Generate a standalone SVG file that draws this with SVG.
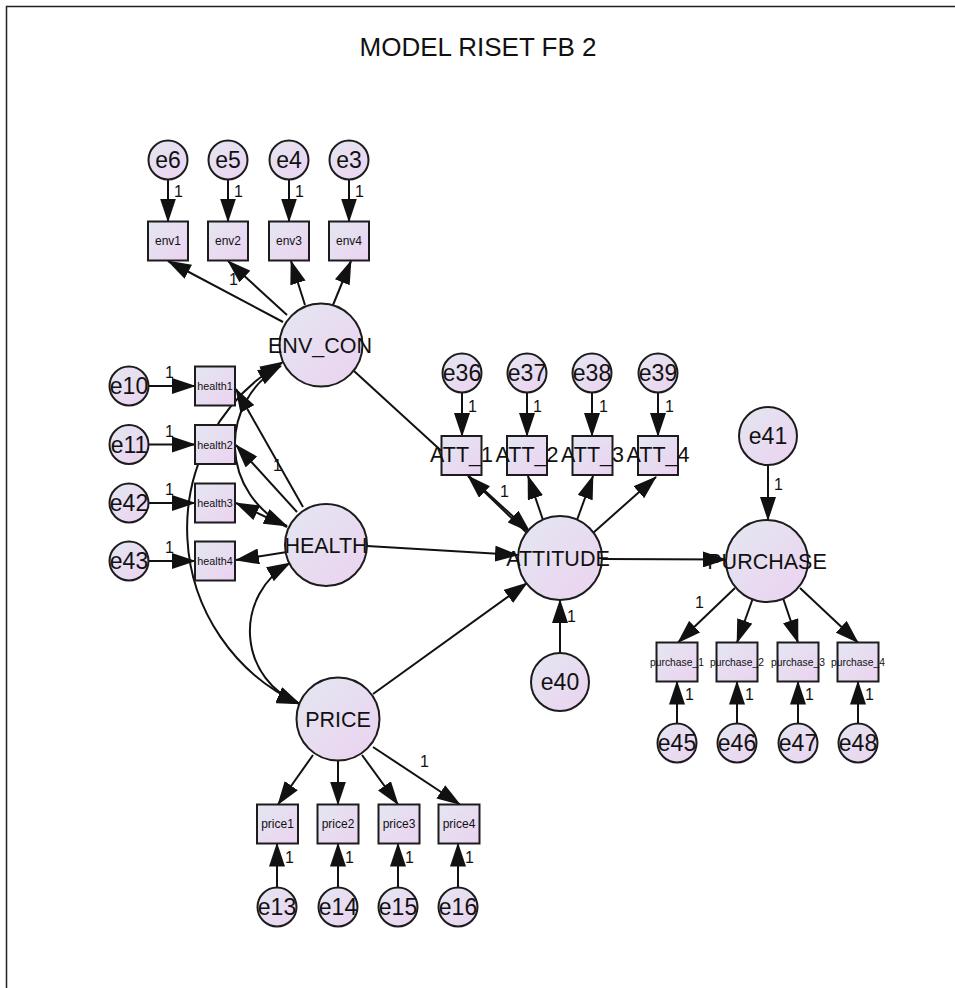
<svg xmlns="http://www.w3.org/2000/svg" width="955" height="988" viewBox="0 0 955 988">
  <defs>
    <linearGradient id="fillGrad" x1="0" y1="0" x2="1" y2="1">
      <stop offset="0" stop-color="#e4e7f1"/>
      <stop offset="1" stop-color="#ebd2f0"/>
    </linearGradient>
    <marker id="ah" viewBox="0 0 24 16" refX="23" refY="8" markerWidth="24" markerHeight="16" markerUnits="userSpaceOnUse" orient="auto-start-reverse">
      <path d="M0,0 L24,8 L0,16 z" fill="#111"/>
    </marker>
    <style>
      .shape { fill: url(#fillGrad); stroke: #1c1c1c; stroke-width: 2; }
      .t { font-family: "Liberation Sans", Arial, sans-serif; fill: #111; text-anchor: middle; }
      .lat { font-size: 21.5px; }
      .err { font-size: 23px; }
      .att { font-size: 21.5px; }
      .env { font-size: 12px; }
      .hl { font-size: 10.8px; }
      .pr { font-size: 12px; }
      .pu { font-size: 10.3px; }
      .one { font-family: "Liberation Sans", Arial, sans-serif; fill: #111; font-size: 16px; }
      .c line, .c path { stroke: #111; stroke-width: 2; fill: none; marker-end: url(#ah); }
      .c path.cov { marker-start: url(#ah); }
    </style>
  </defs>

  <rect width="955" height="988" fill="#ffffff"/>
  <path d="M6.5,988 V6.5 H955" fill="none" stroke="#222" stroke-width="1.5"/>
  <text class="t" x="478" y="56" font-size="26">MODEL RISET FB 2</text>

  <!-- connectors -->
  <g id="connectors" class="c">
    <!-- covariances -->
    <path class="cov" d="M283,362 A192.7,192.7 0 0 0 300,704"/>
    <path class="cov" d="M281,366 A89.8,89.8 0 0 0 287,526"/>
    <path class="cov" d="M290,563 A78,78 0 0 0 300,704"/>
    <!-- env errors -->
    <line x1="168" y1="179.5" x2="168" y2="221.5"/>
    <line x1="228" y1="179.5" x2="228" y2="221.5"/>
    <line x1="289" y1="179.5" x2="289" y2="221.5"/>
    <line x1="349" y1="179.5" x2="349" y2="221.5"/>
    <!-- ENV_CON loadings -->
    <line x1="283" y1="322" x2="168" y2="261"/>
    <line x1="287" y1="315" x2="228" y2="261"/>
    <line x1="305" y1="305" x2="291" y2="261"/>
    <line x1="333" y1="305" x2="351" y2="261"/>
    <!-- health errors -->
    <line x1="148.5" y1="386" x2="195" y2="386"/>
    <line x1="148.5" y1="444.5" x2="195" y2="444.5"/>
    <line x1="148.5" y1="503" x2="195" y2="503"/>
    <line x1="148.5" y1="561" x2="195" y2="561"/>
    <!-- HEALTH loadings -->
    <line x1="303" y1="507" x2="236" y2="389"/>
    <line x1="297" y1="512" x2="236" y2="445"/>
    <line x1="287" y1="527" x2="236" y2="503"/>
    <line x1="287" y1="552" x2="236" y2="560"/>
    <!-- ATT errors -->
    <line x1="462" y1="392.5" x2="462" y2="436"/>
    <line x1="527" y1="392.5" x2="527" y2="436"/>
    <line x1="592" y1="392.5" x2="592" y2="436"/>
    <line x1="658" y1="392.5" x2="658" y2="436"/>
    <!-- ATTITUDE loadings -->
    <line x1="527" y1="533" x2="468" y2="476"/>
    <line x1="543" y1="520" x2="528" y2="476"/>
    <line x1="577" y1="520" x2="593" y2="476"/>
    <line x1="593" y1="533" x2="656" y2="477"/>
    <!-- structural paths -->
    <line x1="354" y1="371" x2="530" y2="532"/>
    <line x1="367" y1="546" x2="518" y2="555"/>
    <line x1="373" y1="694" x2="527" y2="583"/>
    <line x1="560" y1="653" x2="560" y2="600"/>
    <line x1="602" y1="559" x2="726" y2="559.5"/>
    <line x1="768" y1="465" x2="768" y2="520"/>
    <!-- PURCHASE loadings -->
    <line x1="735" y1="588" x2="678" y2="642.5"/>
    <line x1="753" y1="598" x2="737" y2="642.5"/>
    <line x1="783" y1="598" x2="798" y2="642.5"/>
    <line x1="800" y1="588" x2="858" y2="642.5"/>
    <!-- purchase errors -->
    <line x1="677" y1="723.5" x2="677" y2="681.5"/>
    <line x1="737" y1="723.5" x2="737" y2="681.5"/>
    <line x1="798" y1="723.5" x2="798" y2="681.5"/>
    <line x1="858" y1="723.5" x2="858" y2="681.5"/>
    <!-- PRICE loadings -->
    <line x1="313" y1="755" x2="278" y2="804.5"/>
    <line x1="338" y1="761" x2="338" y2="804.5"/>
    <line x1="362" y1="755" x2="398" y2="804.5"/>
    <line x1="373" y1="747" x2="460" y2="804.5"/>
    <!-- price errors -->
    <line x1="277" y1="887.5" x2="277" y2="843.5"/>
    <line x1="338" y1="887.5" x2="338" y2="843.5"/>
    <line x1="398" y1="887.5" x2="398" y2="843.5"/>
    <line x1="458" y1="887.5" x2="458" y2="843.5"/>
  </g>

  <!-- regression weight labels -->
  <g id="weights" class="one">
    <text x="174" y="197">1</text><text x="234" y="197">1</text><text x="295" y="197">1</text><text x="355" y="197">1</text>
    <text x="229" y="285">1</text>
    <text x="165" y="378">1</text><text x="165" y="437">1</text><text x="165" y="495">1</text><text x="165" y="553">1</text>
    <text x="273" y="471">1</text>
    <text x="468" y="412">1</text><text x="533" y="412">1</text><text x="599" y="412">1</text><text x="665" y="412">1</text>
    <text x="500" y="497">1</text>
    <text x="567" y="622">1</text>
    <text x="774" y="490">1</text>
    <text x="695" y="608">1</text>
    <text x="685" y="700">1</text><text x="745" y="700">1</text><text x="805" y="700">1</text><text x="865" y="700">1</text>
    <text x="420" y="767">1</text>
    <text x="285" y="863">1</text><text x="345" y="863">1</text><text x="405" y="863">1</text><text x="465" y="863">1</text>
  </g>

  <!-- ENV_CON block -->
  <g id="e6"><circle class="shape" cx="168" cy="160" r="19.5"/><text class="t err" x="168" y="168">e6</text></g>
  <g id="e5"><circle class="shape" cx="228" cy="160" r="19.5"/><text class="t err" x="228" y="168">e5</text></g>
  <g id="e4"><circle class="shape" cx="289" cy="160" r="19.5"/><text class="t err" x="289" y="168">e4</text></g>
  <g id="e3"><circle class="shape" cx="349" cy="160" r="19.5"/><text class="t err" x="349" y="168">e3</text></g>
  <g id="env1"><rect class="shape" x="148" y="221.5" width="40" height="39"/><text class="t env" x="168" y="245">env1</text></g>
  <g id="env2"><rect class="shape" x="208" y="221.5" width="40" height="39"/><text class="t env" x="228" y="245">env2</text></g>
  <g id="env3"><rect class="shape" x="269" y="221.5" width="40" height="39"/><text class="t env" x="289" y="245">env3</text></g>
  <g id="env4"><rect class="shape" x="329" y="221.5" width="40" height="39"/><text class="t env" x="349" y="245">env4</text></g>
  <g id="ENV_CON"><circle class="shape" cx="321" cy="345" r="41.5"/><text class="t lat" x="320" y="352.5">ENV_CON</text></g>

  <!-- HEALTH block -->
  <g id="e10"><circle class="shape" cx="129" cy="386" r="19.5"/><text class="t err" x="129" y="394">e10</text></g>
  <g id="e11"><circle class="shape" cx="129" cy="444.5" r="19.5"/><text class="t err" x="129" y="452.5">e11</text></g>
  <g id="e42"><circle class="shape" cx="129" cy="503" r="19.5"/><text class="t err" x="129" y="511">e42</text></g>
  <g id="e43"><circle class="shape" cx="129" cy="561" r="19.5"/><text class="t err" x="129" y="569">e43</text></g>
  <g id="health1"><rect class="shape" x="195" y="366.5" width="40" height="39"/><text class="t hl" x="215" y="390">health1</text></g>
  <g id="health2"><rect class="shape" x="195" y="425" width="40" height="39"/><text class="t hl" x="215" y="448.5">health2</text></g>
  <g id="health3"><rect class="shape" x="195" y="483.5" width="40" height="39"/><text class="t hl" x="215" y="507">health3</text></g>
  <g id="health4"><rect class="shape" x="195" y="541.5" width="40" height="39"/><text class="t hl" x="215" y="565">health4</text></g>
  <g id="HEALTH"><circle class="shape" cx="326" cy="545" r="41"/><text class="t lat" x="326" y="553">HEALTH</text></g>

  <!-- PRICE block -->
  <g id="PRICE"><circle class="shape" cx="338" cy="719" r="41.5"/><text class="t lat" x="338" y="727">PRICE</text></g>
  <g id="price1"><rect class="shape" x="257" y="804.5" width="41" height="39"/><text class="t pr" x="277.5" y="828">price1</text></g>
  <g id="price2"><rect class="shape" x="317.5" y="804.5" width="41" height="39"/><text class="t pr" x="338" y="828">price2</text></g>
  <g id="price3"><rect class="shape" x="378.5" y="804.5" width="41" height="39"/><text class="t pr" x="399" y="828">price3</text></g>
  <g id="price4"><rect class="shape" x="438.5" y="804.5" width="41" height="39"/><text class="t pr" x="459" y="828">price4</text></g>
  <g id="e13"><circle class="shape" cx="277" cy="907" r="19.5"/><text class="t err" x="277" y="915">e13</text></g>
  <g id="e14"><circle class="shape" cx="338" cy="907" r="19.5"/><text class="t err" x="338" y="915">e14</text></g>
  <g id="e15"><circle class="shape" cx="398" cy="907" r="19.5"/><text class="t err" x="398" y="915">e15</text></g>
  <g id="e16"><circle class="shape" cx="458" cy="907" r="19.5"/><text class="t err" x="458" y="915">e16</text></g>

  <!-- ATTITUDE block -->
  <g id="e36"><circle class="shape" cx="462" cy="373" r="19.5"/><text class="t err" x="462" y="381">e36</text></g>
  <g id="e37"><circle class="shape" cx="527" cy="373" r="19.5"/><text class="t err" x="527" y="381">e37</text></g>
  <g id="e38"><circle class="shape" cx="592" cy="373" r="19.5"/><text class="t err" x="592" y="381">e38</text></g>
  <g id="e39"><circle class="shape" cx="658" cy="373" r="19.5"/><text class="t err" x="658" y="381">e39</text></g>
  <g id="ATT_1"><rect class="shape" x="441.5" y="436" width="40" height="39"/><text class="t att" x="461.5" y="461.5">ATT_1</text></g>
  <g id="ATT_2"><rect class="shape" x="507" y="436" width="40" height="39"/><text class="t att" x="527" y="461.5">ATT_2</text></g>
  <g id="ATT_3"><rect class="shape" x="572.5" y="436" width="40" height="39"/><text class="t att" x="592.5" y="461.5">ATT_3</text></g>
  <g id="ATT_4"><rect class="shape" x="638" y="436" width="40" height="39"/><text class="t att" x="658" y="461.5">ATT_4</text></g>
  <g id="ATTITUDE"><circle class="shape" cx="560" cy="558" r="42"/><text class="t lat" x="558" y="566">ATTITUDE</text></g>
  <g id="e40"><circle class="shape" cx="560" cy="682" r="29"/><text class="t err" x="560" y="690">e40</text></g>

  <!-- PURCHASE block -->
  <g id="e41"><circle class="shape" cx="768" cy="436" r="29"/><text class="t err" x="768" y="444">e41</text></g>
  <g id="PURCHASE"><circle class="shape" cx="767" cy="561" r="41"/><text class="t lat" x="767" y="569">PURCHASE</text></g>
  <g id="purchase_1"><rect class="shape" x="656.5" y="642.5" width="41" height="39"/><text class="t pu" x="677" y="666">purchase_1</text></g>
  <g id="purchase_2"><rect class="shape" x="716.5" y="642.5" width="41" height="39"/><text class="t pu" x="737" y="666">purchase_2</text></g>
  <g id="purchase_3"><rect class="shape" x="777.5" y="642.5" width="41" height="39"/><text class="t pu" x="798" y="666">purchase_3</text></g>
  <g id="purchase_4"><rect class="shape" x="837.5" y="642.5" width="41" height="39"/><text class="t pu" x="858" y="666">purchase_4</text></g>
  <g id="e45"><circle class="shape" cx="677" cy="743" r="19.5"/><text class="t err" x="677" y="751">e45</text></g>
  <g id="e46"><circle class="shape" cx="737" cy="743" r="19.5"/><text class="t err" x="737" y="751">e46</text></g>
  <g id="e47"><circle class="shape" cx="798" cy="743" r="19.5"/><text class="t err" x="798" y="751">e47</text></g>
  <g id="e48"><circle class="shape" cx="858" cy="743" r="19.5"/><text class="t err" x="858" y="751">e48</text></g>
</svg>
